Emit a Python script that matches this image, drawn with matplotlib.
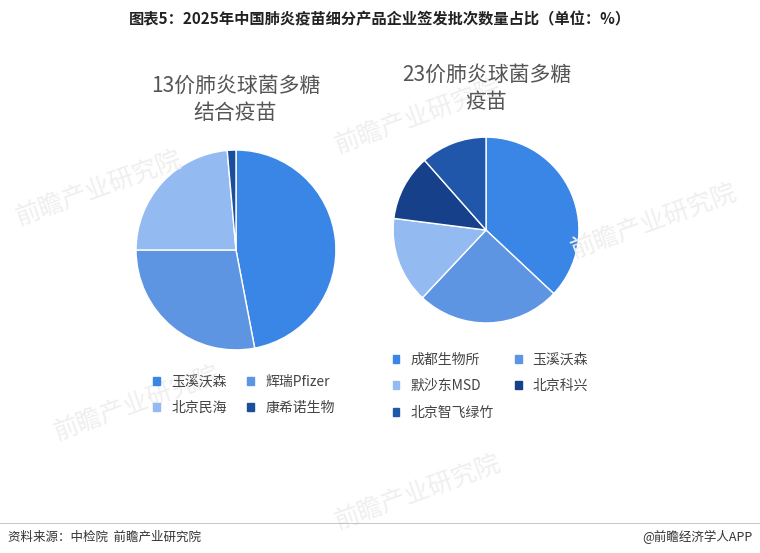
import matplotlib.pyplot as plt
from matplotlib.patches import Patch

plt.rcParams['font.family'] = ['Noto Sans CJK SC', 'DejaVu Sans']

left_labels = ["玉溪沃森", "辉瑞Pfizer", "北京民海", "康希诺生物"]
left_values = [47.0, 28.0, 23.6, 1.4]
left_colors = ["#3a86e6", "#5e95e2", "#93bbf2", "#1b4f9c"]

right_labels = ["成都生物所", "玉溪沃森", "默沙东MSD", "北京科兴", "北京智飞绿竹"]
right_values = [37.0, 25.0, 15.0, 11.5, 11.5]
right_colors = ["#3a86e6", "#5e95e2", "#93bbf2", "#16418a", "#2157aa"]


def rowwise(handles, ncol):
    # matplotlib fills legend columns first; reorder so entries read row by row
    return [h for c in range(ncol) for h in handles[c::ncol]]


fig = plt.figure(figsize=(7.6, 5.53), dpi=100)
fig.patch.set_facecolor("white")

for x, y in [(0.13, 0.66), (0.55, 0.79), (0.86, 0.6), (0.18, 0.27), (0.55, 0.11)]:
    fig.text(x, y, "前瞻产业研究院", fontsize=18, color="#efefef", rotation=20,
             ha="center", va="center", zorder=0)

fig.text(0.5, 0.965, "图表5：2025年中国肺炎疫苗细分产品企业签发批次数量占比（单位：%）",
         ha="center", va="center", fontsize=11, fontweight="bold", color="#222222")

ax1 = fig.add_axes([0.179, 0.367, 0.263, 0.362])
ax1.pie(left_values, colors=left_colors, startangle=90, counterclock=False,
        wedgeprops=dict(edgecolor="white", linewidth=1))
ax1.set_xlim(-1, 1)
ax1.set_ylim(-1, 1)
fig.text(0.31, 0.82, "13价肺炎球菌多糖\n结合疫苗", ha="center", va="center",
         fontsize=15, color="#555555", linespacing=1.3)

ax2 = fig.add_axes([0.517, 0.416, 0.245, 0.336])
ax2.pie(right_values, colors=right_colors, startangle=90, counterclock=False,
        wedgeprops=dict(edgecolor="white", linewidth=1))
ax2.set_xlim(-1, 1)
ax2.set_ylim(-1, 1)
fig.text(0.64, 0.84, "23价肺炎球菌多糖\n疫苗", ha="center", va="center",
         fontsize=15, color="#555555", linespacing=1.3)

h1 = [Patch(color=c, label=l) for l, c in zip(left_labels, left_colors)]
fig.legend(handles=rowwise(h1, 2), loc="upper left", bbox_to_anchor=(0.185, 0.345), ncol=2,
           frameon=False, fontsize=10, handlelength=0.5, handleheight=0.5,
           columnspacing=1.5, labelspacing=0.9, labelcolor="#444444")
h2 = [Patch(color=c, label=l) for l, c in zip(right_labels, right_colors)]
fig.legend(handles=rowwise(h2, 2), loc="upper left", bbox_to_anchor=(0.5, 0.385), ncol=2,
           frameon=False, fontsize=10, handlelength=0.5, handleheight=0.5,
           columnspacing=1.5, labelspacing=0.9, labelcolor="#444444")

fig.add_artist(plt.Line2D([0.0, 1.0], [0.055, 0.055], color="#bbbbbb", linewidth=0.6))
fig.text(0.01, 0.028, "资料来源：中检院  前瞻产业研究院", fontsize=9, color="#333333", va="center")
fig.text(0.99, 0.028, "@前瞻经济学人APP", fontsize=9, color="#333333", va="center", ha="right")

fig.savefig("out.png", dpi=100)
